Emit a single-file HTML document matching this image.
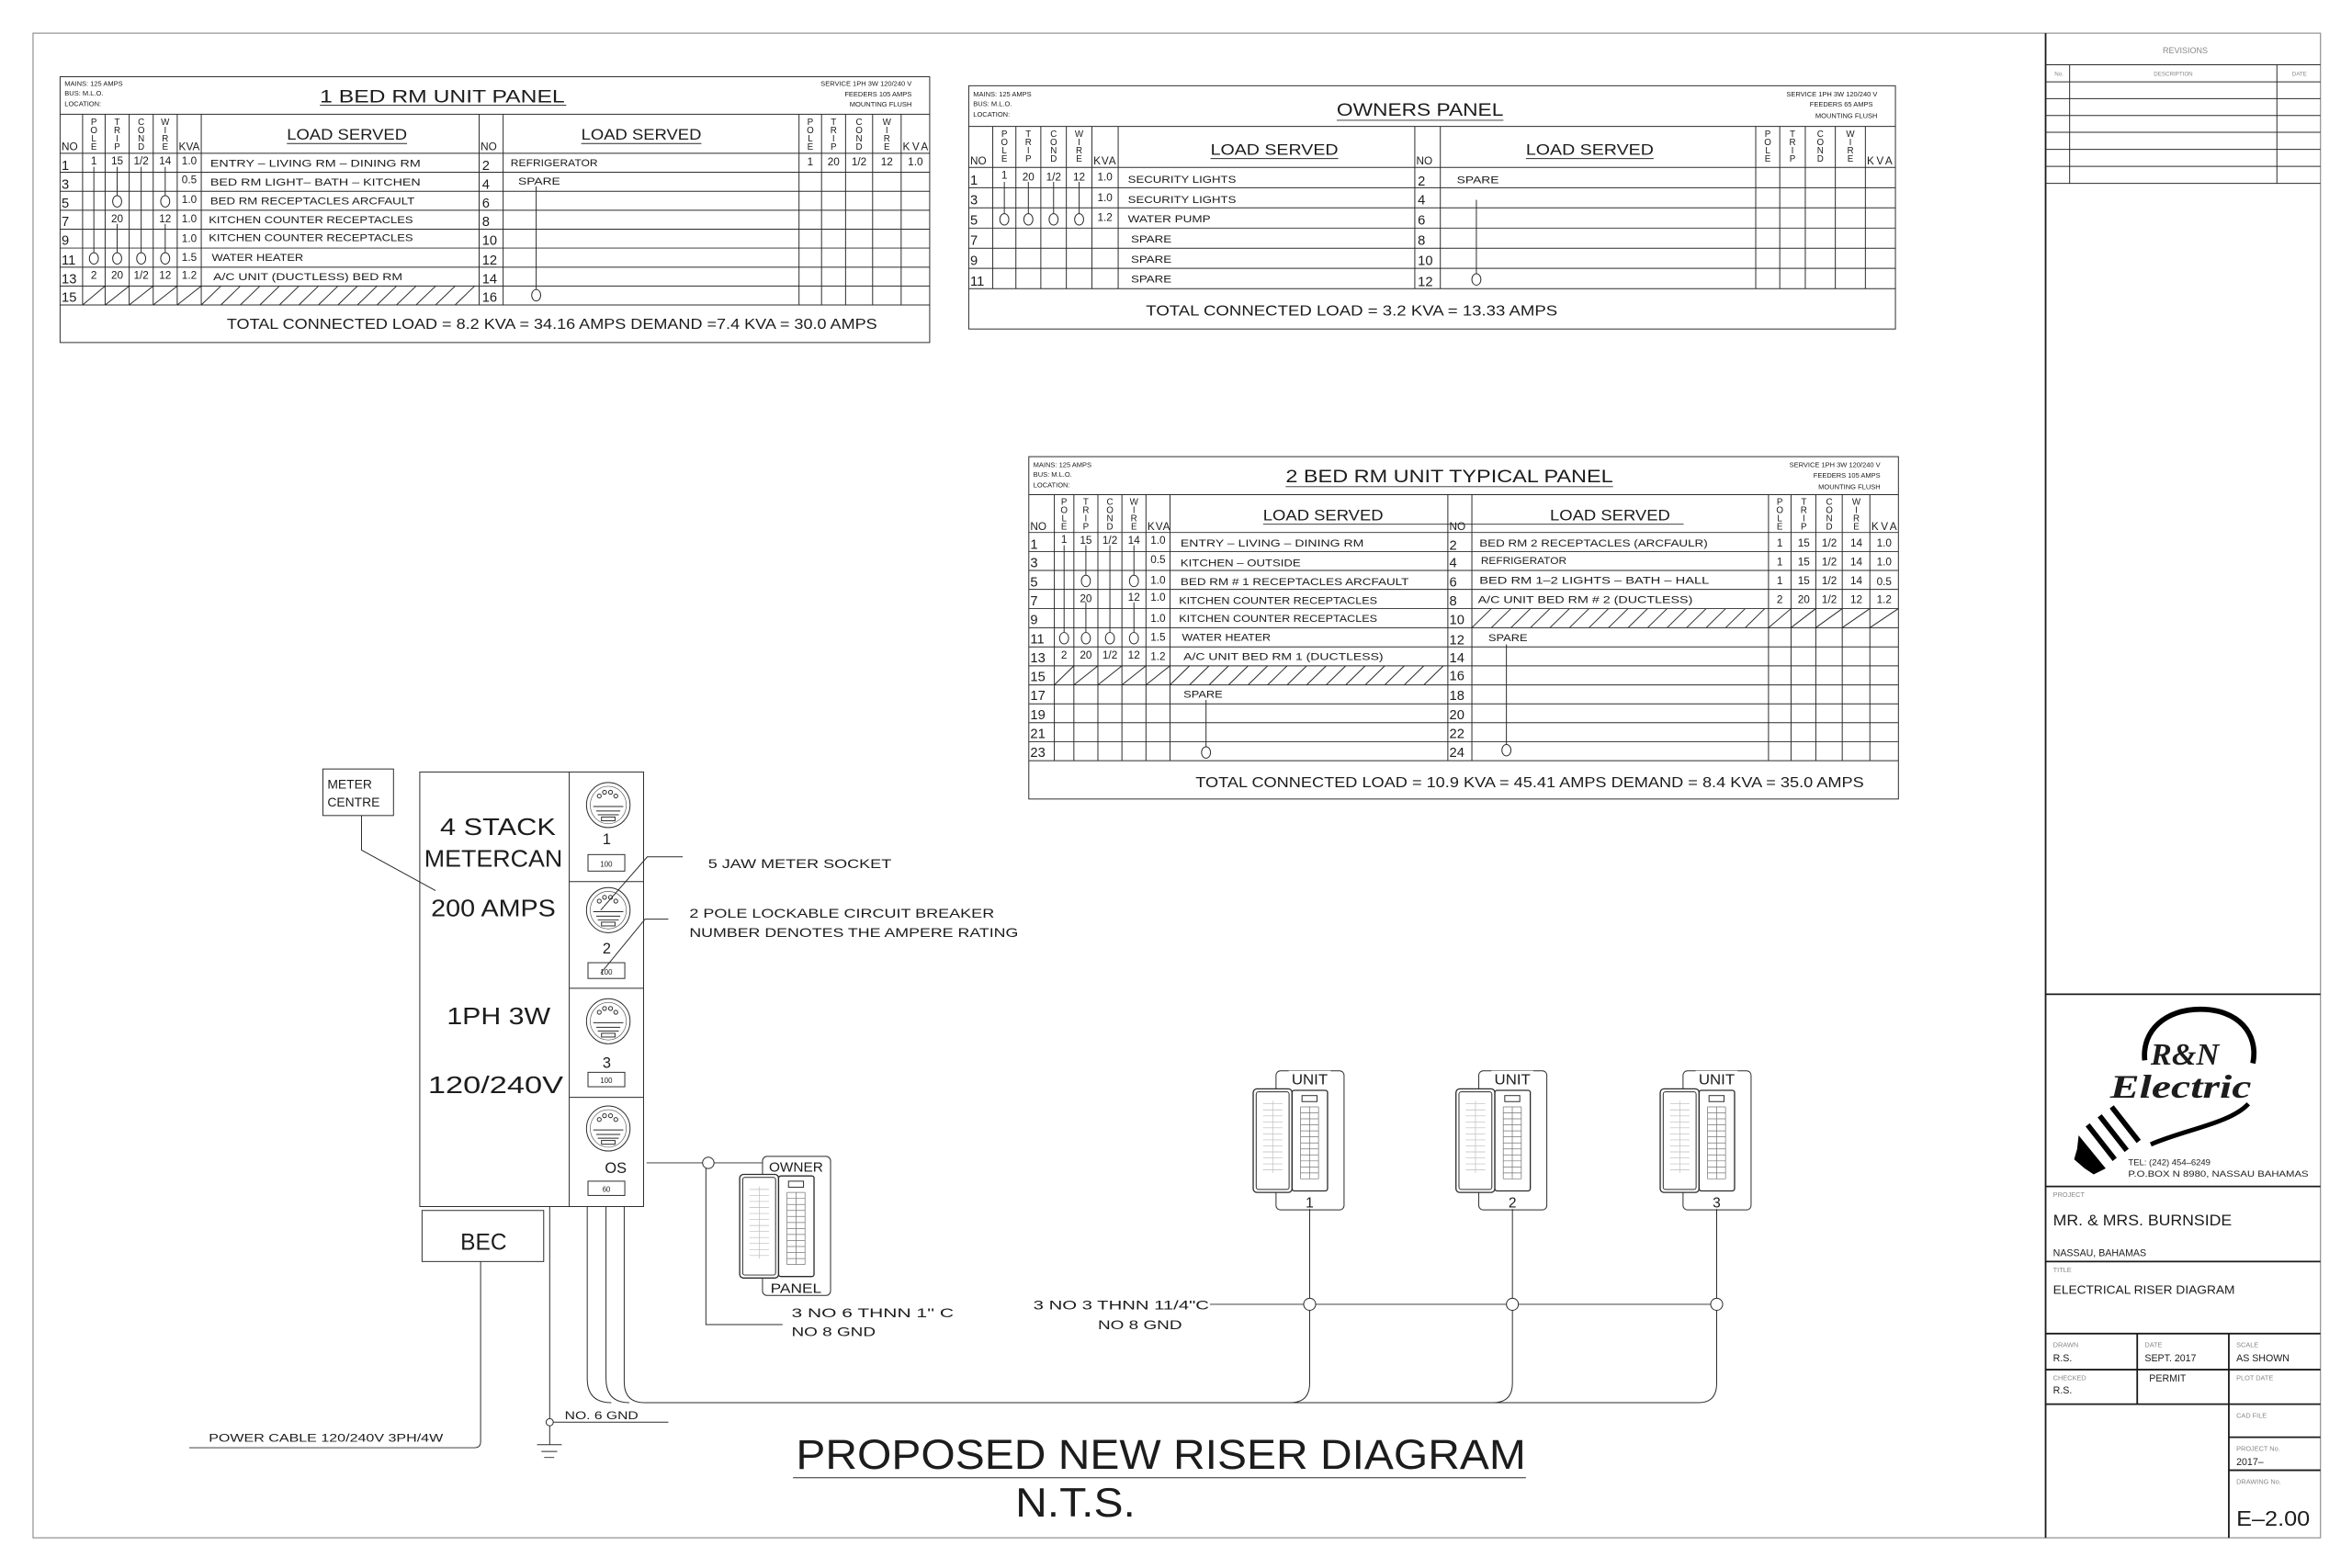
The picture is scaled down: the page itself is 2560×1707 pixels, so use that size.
<!DOCTYPE html>
<html><head><meta charset="utf-8"><style>
html,body{margin:0;padding:0;background:#fff;}
svg{display:block}
text{font-family:"Liberation Sans",sans-serif;fill:#1c1c1c}
.s{fill:none;stroke:#2a2a2a;stroke-width:0.6}
.k{fill:none;stroke:#1a1a1a;stroke-width:1.1}
.c{fill:#fff;stroke:#2a2a2a;stroke-width:0.6}
.sm{font-size:4.6px}
.d{font-size:7.2px}
.n{font-size:9px}
.l{font-size:7px}
.v{font-size:6px;text-anchor:middle}
.m{text-anchor:middle}
.e{text-anchor:end}
.g{fill:#888}
</style></head><body>
<svg width="2560" height="1707" viewBox="0 0 1566 1044" xmlns="http://www.w3.org/2000/svg">
<rect x="0" y="0" width="1566" height="1044" fill="#fff"/>
<rect x="22" y="22" width="1523" height="1002" fill="none" stroke="#999" stroke-width="0.8"/>
<path class="k" d="M1362 22V1024"/>

<!-- ================= PANEL 1 ================= -->
<rect x="40" y="51" width="579" height="177" class="s"/>
<path class="s" d="M40 76H619M40 102H619M40 114.6H619M40 127.3H619M40 139.9H619M40 152.5H619M40 165.1H619M40 177.8H619M40 190.4H619M40 203H619
M55 76V203M70 76V203M86 76V203M102 76V203M118 76V203M134 76V203M319 76V203M335 76V203M532 76V203M547 76V203M563 76V203M581 76V203M600 76V203
M62.5 111V168.5M78 111V131M78 149V168.5M94 111V168.5M110 111V131M110 149V168.5M357 124V193
M55 203L70 190.4M70 203L86 190.4M86 203L102 190.4M102 203L118 190.4M118 203L134 190.4
M134 203L147 190.4M147 203L160 190.4M160 203L173 190.4M173 203L186 190.4M186 203L199 190.4M199 203L212 190.4M212 203L225 190.4M225 203L238 190.4M238 203L251 190.4M251 203L264 190.4M264 203L277 190.4M277 203L290 190.4M290 203L303 190.4M303 203L316 190.4
M213 70H377M191 95.5H271M387 95.5H467"/>
<g class="c"><ellipse cx="78" cy="134" rx="3" ry="3.8"/><ellipse cx="110" cy="134" rx="3" ry="3.8"/><ellipse cx="62.5" cy="172" rx="3" ry="3.8"/><ellipse cx="78" cy="172" rx="3" ry="3.8"/><ellipse cx="94" cy="172" rx="3" ry="3.8"/><ellipse cx="110" cy="172" rx="3" ry="3.8"/><ellipse cx="357" cy="196.5" rx="3" ry="3.8"/></g>
<text class="sm" x="43" y="57">MAINS: 125 AMPS</text><text class="sm" x="43" y="63.5">BUS: M.L.O.</text><text class="sm" x="43" y="70.5">LOCATION:</text>
<text class="sm e" x="607" y="57">SERVICE 1PH 3W 120/240 V</text><text class="sm e" x="607" y="64">FEEDERS 105 AMPS</text><text class="sm e" x="607" y="71">MOUNTING FLUSH</text>
<text x="213" y="68" font-size="12" fill="#333" textLength="163" lengthAdjust="spacingAndGlyphs">1 BED RM UNIT  PANEL</text>
<text x="191" y="93" font-size="10" fill="#333" textLength="80" lengthAdjust="spacingAndGlyphs">LOAD SERVED</text>
<text x="387" y="93" font-size="10" fill="#333" textLength="80" lengthAdjust="spacingAndGlyphs">LOAD SERVED</text>
<text class="d" x="41" y="100">NO</text><text class="d" x="119" y="100" textLength="14">KVA</text><text class="d" x="320" y="100">NO</text><text class="d" x="601" y="100" textLength="17">KVA</text>
<g class="v">
<text x="62.5" y="83">P</text><text x="62.5" y="88.5">O</text><text x="62.5" y="94">L</text><text x="62.5" y="99.5">E</text>
<text x="78" y="83">T</text><text x="78" y="88.5">R</text><text x="78" y="94">I</text><text x="78" y="99.5">P</text>
<text x="94" y="83">C</text><text x="94" y="88.5">O</text><text x="94" y="94">N</text><text x="94" y="99.5">D</text>
<text x="110" y="83">W</text><text x="110" y="88.5">I</text><text x="110" y="94">R</text><text x="110" y="99.5">E</text>
<text x="539.5" y="83">P</text><text x="539.5" y="88.5">O</text><text x="539.5" y="94">L</text><text x="539.5" y="99.5">E</text>
<text x="555" y="83">T</text><text x="555" y="88.5">R</text><text x="555" y="94">I</text><text x="555" y="99.5">P</text>
<text x="572" y="83">C</text><text x="572" y="88.5">O</text><text x="572" y="94">N</text><text x="572" y="99.5">D</text>
<text x="590.5" y="83">W</text><text x="590.5" y="88.5">I</text><text x="590.5" y="94">R</text><text x="590.5" y="99.5">E</text>
</g>
<g class="n"><text x="41" y="113">1</text><text x="41" y="125.5">3</text><text x="41" y="138">5</text><text x="41" y="150.5">7</text><text x="41" y="163">9</text><text x="41" y="176">11</text><text x="41" y="188.5">13</text><text x="41" y="201">15</text>
<text x="321" y="113">2</text><text x="321" y="125.5">4</text><text x="321" y="138">6</text><text x="321" y="150.5">8</text><text x="321" y="163">10</text><text x="321" y="176">12</text><text x="321" y="188.5">14</text><text x="321" y="201">16</text></g>
<g class="d m">
<text x="62.5" y="109.5">1</text><text x="78" y="109.5">15</text><text x="94" y="109.5">1/2</text><text x="110" y="109.5">14</text><text x="126" y="109.5">1.0</text>
<text x="126" y="122">0.5</text><text x="126" y="135">1.0</text><text x="78" y="148">20</text><text x="110" y="148">12</text><text x="126" y="148">1.0</text><text x="126" y="161">1.0</text><text x="126" y="173.5">1.5</text>
<text x="62.5" y="185.5">2</text><text x="78" y="185.5">20</text><text x="94" y="185.5">1/2</text><text x="110" y="185.5">12</text><text x="126" y="185.5">1.2</text>
<text x="539.5" y="110">1</text><text x="555" y="110">20</text><text x="572" y="110">1/2</text><text x="590.5" y="110">12</text><text x="609.5" y="110">1.0</text>
</g>
<g class="l">
<text x="140" y="111" textLength="140" lengthAdjust="spacingAndGlyphs">ENTRY – LIVING RM – DINING RM</text>
<text x="140" y="123.5" textLength="140" lengthAdjust="spacingAndGlyphs">BED RM LIGHT– BATH – KITCHEN</text>
<text x="140" y="136" textLength="136" lengthAdjust="spacingAndGlyphs">BED RM RECEPTACLES ARCFAULT</text>
<text x="139" y="148.5" textLength="136" lengthAdjust="spacingAndGlyphs">KITCHEN COUNTER RECEPTACLES</text>
<text x="139" y="160.5" textLength="136" lengthAdjust="spacingAndGlyphs">KITCHEN COUNTER RECEPTACLES</text>
<text x="141" y="173.5" textLength="61" lengthAdjust="spacingAndGlyphs">WATER HEATER</text>
<text x="142" y="186.5" textLength="126" lengthAdjust="spacingAndGlyphs">A/C UNIT (DUCTLESS) BED RM</text>
<text x="340" y="110.5" textLength="58" lengthAdjust="spacingAndGlyphs">REFRIGERATOR</text>
<text x="345" y="123" textLength="28" lengthAdjust="spacingAndGlyphs">SPARE</text>
</g>
<text x="151" y="219" font-size="9.5" fill="#333" textLength="433" lengthAdjust="spacingAndGlyphs">TOTAL CONNECTED LOAD = 8.2  KVA = 34.16 AMPS DEMAND =7.4 KVA = 30.0 AMPS</text>

<!-- ================= OWNERS PANEL ================= -->
<rect x="645" y="57" width="617" height="162" class="s"/>
<path class="s" d="M645 84.1H1262M645 111.4H1262M645 124.9H1262M645 138.3H1262M645 151.8H1262M645 165.2H1262M645 178.6H1262M645 192.1H1262
M661 84.1V192.1M676.4 84.1V192.1M693 84.1V192.1M710 84.1V192.1M727 84.1V192.1M744.5 84.1V192.1M942 84.1V192.1M959 84.1V192.1M1169 84.1V192.1M1185 84.1V192.1M1202 84.1V192.1M1222 84.1V192.1M1242 84.1V192.1
M668.7 121V142.3M684.7 121V142.3M701.5 121V142.3M718.5 121V142.3M983 133V182.2
M890 80H1001M806 105.5H891M1016 105.5H1101"/>
<g class="c"><ellipse cx="668.7" cy="146" rx="3" ry="3.8"/><ellipse cx="684.7" cy="146" rx="3" ry="3.8"/><ellipse cx="701.5" cy="146" rx="3" ry="3.8"/><ellipse cx="718.5" cy="146" rx="3" ry="3.8"/><ellipse cx="983" cy="186" rx="3" ry="3.8"/></g>
<text class="sm" x="648" y="64">MAINS: 125 AMPS</text><text class="sm" x="648" y="70.5">BUS: M.L.O.</text><text class="sm" x="648" y="77.5">LOCATION:</text>
<text class="sm e" x="1250" y="64">SERVICE 1PH 3W 120/240 V</text><text class="sm e" x="1247" y="71">FEEDERS 65 AMPS</text><text class="sm e" x="1250" y="78.5">MOUNTING FLUSH</text>
<text x="890" y="77" font-size="12" fill="#333" textLength="111" lengthAdjust="spacingAndGlyphs">OWNERS PANEL</text>
<text x="806" y="103" font-size="10" fill="#333" textLength="85" lengthAdjust="spacingAndGlyphs">LOAD SERVED</text>
<text x="1016" y="103" font-size="10" fill="#333" textLength="85" lengthAdjust="spacingAndGlyphs">LOAD SERVED</text>
<text class="d" x="646" y="109.5">NO</text><text class="d" x="728" y="109.5" textLength="15">KVA</text><text class="d" x="943" y="109.5">NO</text><text class="d" x="1243" y="109.5" textLength="17">KVA</text>
<g class="v">
<text x="668.7" y="91">P</text><text x="668.7" y="96.5">O</text><text x="668.7" y="102">L</text><text x="668.7" y="107.5">E</text>
<text x="684.7" y="91">T</text><text x="684.7" y="96.5">R</text><text x="684.7" y="102">I</text><text x="684.7" y="107.5">P</text>
<text x="701.5" y="91">C</text><text x="701.5" y="96.5">O</text><text x="701.5" y="102">N</text><text x="701.5" y="107.5">D</text>
<text x="718.5" y="91">W</text><text x="718.5" y="96.5">I</text><text x="718.5" y="102">R</text><text x="718.5" y="107.5">E</text>
<text x="1177" y="91">P</text><text x="1177" y="96.5">O</text><text x="1177" y="102">L</text><text x="1177" y="107.5">E</text>
<text x="1193.5" y="91">T</text><text x="1193.5" y="96.5">R</text><text x="1193.5" y="102">I</text><text x="1193.5" y="107.5">P</text>
<text x="1212" y="91">C</text><text x="1212" y="96.5">O</text><text x="1212" y="102">N</text><text x="1212" y="107.5">D</text>
<text x="1232" y="91">W</text><text x="1232" y="96.5">I</text><text x="1232" y="102">R</text><text x="1232" y="107.5">E</text>
</g>
<g class="n"><text x="646" y="123">1</text><text x="646" y="136">3</text><text x="646" y="149.5">5</text><text x="646" y="163">7</text><text x="646" y="176.5">9</text><text x="646" y="190">11</text>
<text x="944" y="123.5">2</text><text x="944" y="136">4</text><text x="944" y="149.5">6</text><text x="944" y="163">8</text><text x="944" y="176.5">10</text><text x="944" y="190.5">12</text></g>
<g class="d m"><text x="668.7" y="119">1</text><text x="684.7" y="120">20</text><text x="701.5" y="120">1/2</text><text x="718.5" y="120">12</text><text x="735.7" y="120">1.0</text><text x="735.7" y="134">1.0</text><text x="735.7" y="147">1.2</text></g>
<g class="l">
<text x="751" y="121.5" textLength="72" lengthAdjust="spacingAndGlyphs">SECURITY LIGHTS</text>
<text x="751" y="135" textLength="72" lengthAdjust="spacingAndGlyphs">SECURITY LIGHTS</text>
<text x="751" y="148" textLength="55" lengthAdjust="spacingAndGlyphs">WATER PUMP</text>
<text x="753" y="161.5" textLength="27" lengthAdjust="spacingAndGlyphs">SPARE</text>
<text x="753" y="175" textLength="27" lengthAdjust="spacingAndGlyphs">SPARE</text>
<text x="753" y="188" textLength="27" lengthAdjust="spacingAndGlyphs">SPARE</text>
<text x="970" y="122" textLength="28" lengthAdjust="spacingAndGlyphs">SPARE</text>
</g>
<text x="763" y="210" font-size="9.5" fill="#333" textLength="274" lengthAdjust="spacingAndGlyphs">TOTAL CONNECTED LOAD = 3.2 KVA = 13.33 AMPS</text>

<!-- ================= PANEL 3 ================= -->
<rect x="685" y="304" width="579" height="228" class="s"/>
<path class="s" d="M685 329.3H1264M685 354.5H1264M685 367.2H1264M685 379.8H1264M685 392.4H1264M685 405.2H1264M685 417.9H1264M685 430.7H1264M685 443.3H1264M685 456H1264M685 468.6H1264M685 481.2H1264M685 493.9H1264M685 506.5H1264
M702 329.3V506.5M715 329.3V506.5M731 329.3V506.5M747 329.3V506.5M763 329.3V506.5M779 329.3V506.5M964 329.3V506.5M980 329.3V506.5M1177.5 329.3V506.5M1192.5 329.3V506.5M1209 329.3V506.5M1226.6 329.3V506.5M1245 329.3V506.5
M708.5 363V421M723 363V383M723 401V421M739 363V421M755 363V383M755 401V421M803 466V497M1003 429V495.5
M702 456L715 443.3M715 456L731 443.3M731 456L747 443.3M747 456L763 443.3M763 456L779 443.3
M779 456L792 443.3M792 456L805 443.3M805 456L818 443.3M818 456L831 443.3M831 456L844 443.3M844 456L857 443.3M857 456L870 443.3M870 456L883 443.3M883 456L896 443.3M896 456L909 443.3M909 456L922 443.3M922 456L935 443.3M935 456L948 443.3M948 456L961 443.3
M980 417.9L993 405.2M993 417.9L1006 405.2M1006 417.9L1019 405.2M1019 417.9L1032 405.2M1032 417.9L1045 405.2M1045 417.9L1058 405.2M1058 417.9L1071 405.2M1071 417.9L1084 405.2M1084 417.9L1097 405.2M1097 417.9L1110 405.2M1110 417.9L1123 405.2M1123 417.9L1136 405.2M1136 417.9L1149 405.2M1149 417.9L1162 405.2M1162 417.9L1175 405.2
M1177.5 417.9L1192.5 405.2M1192.5 417.9L1209 405.2M1209 417.9L1226.6 405.2M1226.6 417.9L1245 405.2M1245 417.9L1264 405.2
M856 324H1074M841 349H1121M1032 349H1112"/>
<g class="c"><ellipse cx="723" cy="386.8" rx="3" ry="3.8"/><ellipse cx="755" cy="386.8" rx="3" ry="3.8"/><ellipse cx="708.5" cy="424.9" rx="3" ry="3.8"/><ellipse cx="723" cy="424.9" rx="3" ry="3.8"/><ellipse cx="739" cy="424.9" rx="3" ry="3.8"/><ellipse cx="755" cy="424.9" rx="3" ry="3.8"/><ellipse cx="803" cy="501" rx="3" ry="3.8"/><ellipse cx="1003" cy="499.5" rx="3" ry="3.8"/></g>
<text class="sm" x="688" y="311">MAINS: 125 AMPS</text><text class="sm" x="688" y="317.5">BUS: M.L.O.</text><text class="sm" x="688" y="324.5">LOCATION:</text>
<text class="sm e" x="1252" y="311">SERVICE 1PH 3W 120/240 V</text><text class="sm e" x="1252" y="318">FEEDERS 105 AMPS</text><text class="sm e" x="1252" y="325.5">MOUNTING FLUSH</text>
<text x="856" y="321" font-size="12" fill="#333" textLength="218" lengthAdjust="spacingAndGlyphs">2 BED RM UNIT TYPICAL PANEL</text>
<text x="841" y="346.5" font-size="10" fill="#333" textLength="80" lengthAdjust="spacingAndGlyphs">LOAD SERVED</text>
<text x="1032" y="346.5" font-size="10" fill="#333" textLength="80" lengthAdjust="spacingAndGlyphs">LOAD SERVED</text>
<text class="d" x="686" y="353">NO</text><text class="d" x="764" y="353" textLength="15">KVA</text><text class="d" x="965" y="353">NO</text><text class="d" x="1246" y="353" textLength="17">KVA</text>
<g class="v">
<text x="708.5" y="336">P</text><text x="708.5" y="341.5">O</text><text x="708.5" y="347">L</text><text x="708.5" y="352.5">E</text>
<text x="723" y="336">T</text><text x="723" y="341.5">R</text><text x="723" y="347">I</text><text x="723" y="352.5">P</text>
<text x="739" y="336">C</text><text x="739" y="341.5">O</text><text x="739" y="347">N</text><text x="739" y="352.5">D</text>
<text x="755" y="336">W</text><text x="755" y="341.5">I</text><text x="755" y="347">R</text><text x="755" y="352.5">E</text>
<text x="1185" y="336">P</text><text x="1185" y="341.5">O</text><text x="1185" y="347">L</text><text x="1185" y="352.5">E</text>
<text x="1201" y="336">T</text><text x="1201" y="341.5">R</text><text x="1201" y="347">I</text><text x="1201" y="352.5">P</text>
<text x="1218" y="336">C</text><text x="1218" y="341.5">O</text><text x="1218" y="347">N</text><text x="1218" y="352.5">D</text>
<text x="1236" y="336">W</text><text x="1236" y="341.5">I</text><text x="1236" y="347">R</text><text x="1236" y="352.5">E</text>
</g>
<g class="n">
<text x="686" y="365.5">1</text><text x="686" y="377.5">3</text><text x="686" y="390.5">5</text><text x="686" y="403">7</text><text x="686" y="415.5">9</text><text x="686" y="428.5">11</text><text x="686" y="441">13</text><text x="686" y="453.5">15</text><text x="686" y="466">17</text><text x="686" y="479">19</text><text x="686" y="491.5">21</text><text x="686" y="504">23</text>
<text x="965" y="366">2</text><text x="965" y="377.5">4</text><text x="965" y="390.5">6</text><text x="965" y="403">8</text><text x="965" y="415.5">10</text><text x="965" y="429">12</text><text x="965" y="441">14</text><text x="965" y="453">16</text><text x="965" y="466">18</text><text x="965" y="479">20</text><text x="965" y="491.5">22</text><text x="965" y="504">24</text></g>
<g class="d m">
<text x="708.5" y="361.5">1</text><text x="723" y="362">15</text><text x="739" y="362">1/2</text><text x="755" y="362">14</text><text x="771" y="362">1.0</text>
<text x="771" y="375">0.5</text><text x="771" y="388.5">1.0</text><text x="723" y="401">20</text><text x="755" y="400">12</text><text x="771" y="400">1.0</text><text x="771" y="414">1.0</text><text x="771" y="426.5">1.5</text>
<text x="708.5" y="438.5">2</text><text x="723" y="438.5">20</text><text x="739" y="438.5">1/2</text><text x="755" y="438.5">12</text><text x="771" y="439.5">1.2</text>
<text x="1185" y="364">1</text><text x="1201" y="364">15</text><text x="1218" y="364">1/2</text><text x="1236" y="364">14</text><text x="1254.5" y="364">1.0</text>
<text x="1185" y="376.5">1</text><text x="1201" y="376.5">15</text><text x="1218" y="376.5">1/2</text><text x="1236" y="376.5">14</text><text x="1254.5" y="376.5">1.0</text>
<text x="1185" y="389">1</text><text x="1201" y="389">15</text><text x="1218" y="389">1/2</text><text x="1236" y="389">14</text><text x="1254.5" y="389.5">0.5</text>
<text x="1185" y="401.5">2</text><text x="1201" y="401.5">20</text><text x="1218" y="401.5">1/2</text><text x="1236" y="401.5">12</text><text x="1254.5" y="401.5">1.2</text>
</g>
<g class="l">
<text x="786" y="364" textLength="122" lengthAdjust="spacingAndGlyphs">ENTRY – LIVING – DINING RM</text>
<text x="786" y="377" textLength="80" lengthAdjust="spacingAndGlyphs">KITCHEN – OUTSIDE</text>
<text x="786" y="389.5" textLength="152" lengthAdjust="spacingAndGlyphs">BED RM # 1 RECEPTACLES ARCFAULT</text>
<text x="785" y="402" textLength="132" lengthAdjust="spacingAndGlyphs">KITCHEN COUNTER RECEPTACLES</text>
<text x="785" y="414" textLength="132" lengthAdjust="spacingAndGlyphs">KITCHEN COUNTER RECEPTACLES</text>
<text x="787" y="426.5" textLength="59" lengthAdjust="spacingAndGlyphs">WATER HEATER</text>
<text x="788" y="439.5" textLength="133" lengthAdjust="spacingAndGlyphs">A/C UNIT BED RM 1 (DUCTLESS)</text>
<text x="788" y="464.5" textLength="26" lengthAdjust="spacingAndGlyphs">SPARE</text>
<text x="985" y="364" textLength="152" lengthAdjust="spacingAndGlyphs">BED RM 2 RECEPTACLES (ARCFAULR)</text>
<text x="986" y="375.5" textLength="57" lengthAdjust="spacingAndGlyphs">REFRIGERATOR</text>
<text x="985" y="388.5" textLength="153" lengthAdjust="spacingAndGlyphs">BED RM 1–2 LIGHTS – BATH – HALL</text>
<text x="984" y="401.5" textLength="143" lengthAdjust="spacingAndGlyphs">A/C UNIT BED RM # 2 (DUCTLESS)</text>
<text x="991" y="427" textLength="26" lengthAdjust="spacingAndGlyphs">SPARE</text>
</g>
<text x="796" y="524" font-size="9.5" fill="#333" textLength="445" lengthAdjust="spacingAndGlyphs">TOTAL CONNECTED LOAD = 10.9  KVA = 45.41 AMPS DEMAND = 8.4 KVA = 35.0 AMPS</text>

<!-- ================= REVISIONS ================= -->
<path class="s" d="M1362 43H1545M1362 54.4H1545M1362 65.6H1545M1362 76.8H1545M1362 88H1545M1362 99.4H1545M1362 110.7H1545M1362 122H1545M1378 43V122M1516 43V122" stroke="#555"/>
<text class="m g" x="1455" y="35.5" font-size="5.5">REVISIONS</text>
<text class="g" x="1368" y="50.5" font-size="3.8">No.</text>
<text class="m g" x="1447" y="50.5" font-size="3.8">DESCRIPTION</text>
<text class="m g" x="1531" y="50.5" font-size="3.8">DATE</text>

<!-- ================= TITLE BLOCK ================= -->
<path class="k" d="M1362 662H1545M1362 790H1545M1362 840H1545M1362 888H1545M1362 912H1545M1362 935H1545M1423 888V935M1484 888V1024M1484 957H1545M1484 979H1545"/>
<path d="M1428 706 C1426 686 1442 672 1465 672 C1490 672 1504 688 1500 708" fill="none" stroke="#000" stroke-width="3.5"/>
<text x="1432" y="709" font-style="italic" font-weight="bold" font-size="21" style="font-family:'Liberation Serif',serif">R&amp;N</text>
<text x="1405" y="731" font-style="italic" font-weight="bold" font-size="22" style="font-family:'Liberation Serif',serif" textLength="94" lengthAdjust="spacingAndGlyphs">Electric</text>
<path d="M1497 735 C1485 748 1455 752 1432 762" fill="none" stroke="#000" stroke-width="3"/>
<path d="M1406 737 L1424 760 M1398 743 L1416 766 M1390 749 L1408 772" stroke="#000" stroke-width="3.5"/>
<path d="M1384 756 L1402 778 L1394 782 L1388 778 L1381 772 L1383 765 Z" fill="#000"/>
<text x="1417" y="776" font-size="5.8">TEL: (242) 454–6249</text>
<text x="1417" y="783.5" font-size="5.8" textLength="120" lengthAdjust="spacingAndGlyphs">P.O.BOX N 8980, NASSAU BAHAMAS</text>
<text x="1367" y="797" font-size="4.5" class="g">PROJECT</text>
<text x="1367" y="816" font-size="10" fill="#333" textLength="119" lengthAdjust="spacingAndGlyphs">MR. &amp; MRS. BURNSIDE</text>
<text x="1367" y="836.5" font-size="6.5">NASSAU, BAHAMAS</text>
<text x="1367" y="847" font-size="4.5" class="g">TITLE</text>
<text x="1367" y="861.5" font-size="8" fill="#333" textLength="121" lengthAdjust="spacingAndGlyphs">ELECTRICAL RISER DIAGRAM</text>
<text x="1367" y="897" font-size="4.5" class="g">DRAWN</text><text x="1367" y="906.5" font-size="6.5">R.S.</text>
<text x="1428" y="897" font-size="4.5" class="g">DATE</text><text x="1428" y="906.5" font-size="6.5">SEPT. 2017</text>
<text x="1489" y="897" font-size="4.5" class="g">SCALE</text><text x="1489" y="906.5" font-size="6.5">AS SHOWN</text>
<text x="1367" y="919" font-size="4.5" class="g">CHECKED</text><text x="1367" y="928" font-size="6.5">R.S.</text>
<text x="1431" y="920" font-size="6.5">PERMIT</text>
<text x="1489" y="919" font-size="4.5" class="g">PLOT DATE</text>
<text x="1489" y="944" font-size="4.5" class="g">CAD FILE</text>
<text x="1489" y="966" font-size="4.5" class="g">PROJECT No.</text><text x="1489" y="975.5" font-size="6.5">2017–</text>
<text x="1489" y="988" font-size="4.5" class="g">DRAWING No.</text>
<text x="1489" y="1016" font-size="14" fill="#555" textLength="49" lengthAdjust="spacingAndGlyphs">E–2.00</text>

<!-- ================= RISER ================= -->
<rect x="215" y="512" width="47" height="31" class="s"/>
<text x="218" y="525" font-size="8.5" fill="#333">METER</text><text x="218" y="537" font-size="8.5" fill="#333">CENTRE</text>
<path class="s" d="M240.7 543V566L290 593"/>
<rect x="279.5" y="514" width="149" height="289.4" class="s"/>
<path class="s" d="M379 514V803.4M379 587H428.5M379 658H428.5M379 730.7H428.5"/>
<g font-size="16" fill="#555">
<text x="293" y="556" fill="#555" textLength="77" lengthAdjust="spacingAndGlyphs">4 STACK</text>
<text x="282.5" y="577" fill="#555" textLength="92" lengthAdjust="spacingAndGlyphs">METERCAN</text>
<text x="287" y="610" fill="#555" textLength="83" lengthAdjust="spacingAndGlyphs">200 AMPS</text>
<text x="297.5" y="682" fill="#555" textLength="69" lengthAdjust="spacingAndGlyphs">1PH 3W</text>
<text x="285" y="728" fill="#555" textLength="90" lengthAdjust="spacingAndGlyphs">120/240V</text>
</g>
<g id="mt">
<ellipse cx="405" cy="536" rx="14.5" ry="15" class="s"/>
<ellipse cx="405" cy="536" rx="12" ry="12.5" fill="none" stroke="#555" stroke-width="0.4"/>
<circle cx="399" cy="530" r="1.3" class="s"/><circle cx="402.5" cy="527.5" r="1.3" class="s"/><circle cx="406.5" cy="527.5" r="1.3" class="s"/><circle cx="410" cy="530" r="1.3" class="s"/>
<path class="s" d="M395 537H415M397 540H413M398 542.5H412"/>
<rect x="400.5" y="544" width="9" height="2.5" class="s"/>
</g>
<use href="#mt" y="70"/><use href="#mt" y="144"/><use href="#mt" y="215.4"/>
<g font-size="10" class="m"><text x="404" y="562" fill="#444">1</text><text x="404" y="635" fill="#444">2</text><text x="404" y="711" fill="#444">3</text><text x="410" y="781" fill="#444">OS</text></g>
<g class="s"><rect x="391.5" y="569" width="24.5" height="11"/><rect x="391.5" y="641" width="24.5" height="10.5"/><rect x="391.5" y="714" width="24.5" height="9.6"/><rect x="391.5" y="786.5" width="24.5" height="9.5"/></g>
<g font-size="4.8" class="m"><text x="403.7" y="577">100</text><text x="403.7" y="649">100</text><text x="403.7" y="721">100</text><text x="403.7" y="793.5">60</text></g>
<path class="s" d="M454.6 570.5H431L400 606M445 612H429.5L400 648"/>
<text x="471.5" y="578" font-size="8.5" fill="#333" textLength="122" lengthAdjust="spacingAndGlyphs">5 JAW METER SOCKET</text>
<text x="459" y="611" font-size="8.5" fill="#333" textLength="203" lengthAdjust="spacingAndGlyphs">2 POLE LOCKABLE CIRCUIT BREAKER</text>
<text x="459" y="624" font-size="8.5" fill="#333" textLength="219" lengthAdjust="spacingAndGlyphs">NUMBER DENOTES THE AMPERE RATING</text>
<path class="s" d="M430.5 774.3H467.8M475.4 774.3H508M470 778V882H521"/>
<circle cx="471.6" cy="774.3" r="3.8" class="c"/>
<text x="527" y="877" font-size="8.5" fill="#333" textLength="108" lengthAdjust="spacingAndGlyphs">3 NO 6 THNN 1'' C</text>
<text x="527" y="889.5" font-size="8.5" fill="#333" textLength="56" lengthAdjust="spacingAndGlyphs">NO 8 GND</text>
<g id="pn">
<rect x="507.7" y="770" width="45.3" height="92.6" rx="3" class="s"/>
<rect x="492.5" y="782" width="25.9" height="69" rx="2.5" fill="#fff" stroke="#2a2a2a" stroke-width="0.8"/>
<rect x="494.5" y="784" width="21.9" height="65" rx="1.5" class="s"/>
<path d="M499 792H512M499 796H512M499 800H512M499 804H512M499 808H512M499 812H512M499 816H512M499 820H512M499 824H512M499 828H512M499 832H512M499 836H512M505.5 790V838" stroke="#bbb" stroke-width="0.4" fill="none"/>
<rect x="518.4" y="783" width="23.6" height="67" rx="1.5" fill="#fff" stroke="#2a2a2a" stroke-width="0.8"/>
<rect x="525" y="786.5" width="10" height="4" class="s"/>
<path d="M524 794H536M524 798H536M524 802H536M524 806H536M524 810H536M524 814H536M524 818H536M524 822H536M524 826H536M524 830H536M524 834H536M524 838H536M524 842H536M530 794V842M524 794V842M536 794V842" stroke="#777" stroke-width="0.45" fill="none"/>
</g>
<text x="530" y="780" font-size="9" class="m" fill="#333" textLength="36" lengthAdjust="spacingAndGlyphs">OWNER</text>
<text x="530" y="861" font-size="9" class="m" fill="#333" textLength="34" lengthAdjust="spacingAndGlyphs">PANEL</text>
<rect x="281" y="806" width="81" height="34" class="s"/>
<text x="322" y="832" font-size="15" class="m" fill="#555">BEC</text>
<path class="s" d="M320 840V960Q320 964 316 964H126"/>
<text x="139" y="960" font-size="7.5" fill="#333" textLength="156" lengthAdjust="spacingAndGlyphs">POWER CABLE 120/240V 3PH/4W</text>
<path class="s" d="M366 803.4V944.5M366 949.5V962M357.6 962H374M360.5 966.5H371M362.3 970.5H369M368.5 947H445"/>
<circle cx="366" cy="947" r="2.4" class="c"/>
<text x="376" y="945" font-size="7.5" fill="#333" textLength="49" lengthAdjust="spacingAndGlyphs">NO. 6 GND</text>
<path class="s" d="M391 803.4V918Q391 934 407 934M403.5 803.4V918Q403.5 934 419 934M415.6 803.4V920Q415.6 934 429 934H1131Q1143 934 1143 921V872.5M1143 864.5V805
M872 805V864.5M872 872.5V921Q872 934 859 934M1007 805V864.5M1007 872.5V921Q1007 934 994 934M805.6 868.5H867.8M876.2 868.5H1002.8M1011.2 868.5H1138.8"/>
<circle cx="872" cy="868.5" r="4" class="c"/><circle cx="1007" cy="868.5" r="4" class="c"/><circle cx="1143" cy="868.5" r="4" class="c"/>
<text x="688" y="872" font-size="8.5" fill="#333" textLength="117" lengthAdjust="spacingAndGlyphs">3 NO 3 THNN 11/4"C</text>
<text x="731" y="885" font-size="8.5" fill="#333" textLength="56" lengthAdjust="spacingAndGlyphs">NO 8 GND</text>
<use href="#pn" transform="translate(341.9,-57)"/>
<use href="#pn" transform="translate(476.9,-57)"/>
<use href="#pn" transform="translate(612.9,-57)"/>
<g font-size="9.5" class="m">
<rect x="858" y="713" width="28" height="8" fill="#fff"/><text x="872" y="722" fill="#444" textLength="24" lengthAdjust="spacingAndGlyphs">UNIT</text>
<rect x="993" y="713" width="28" height="8" fill="#fff"/><text x="1007" y="722" fill="#444" textLength="24" lengthAdjust="spacingAndGlyphs">UNIT</text>
<rect x="1129" y="713" width="28" height="8" fill="#fff"/><text x="1143" y="722" fill="#444" textLength="24" lengthAdjust="spacingAndGlyphs">UNIT</text>
<text x="872" y="804" fill="#444">1</text><text x="1007" y="804" fill="#444">2</text><text x="1143" y="804" fill="#444">3</text>
</g>
<text x="530" y="978" font-size="28" fill="#555" textLength="486" lengthAdjust="spacingAndGlyphs">PROPOSED NEW RISER DIAGRAM</text>
<path class="s" d="M528 984H1016"/>
<text x="676" y="1010" font-size="27" fill="#555" textLength="80" lengthAdjust="spacingAndGlyphs">N.T.S.</text>
</svg>
</body></html>
